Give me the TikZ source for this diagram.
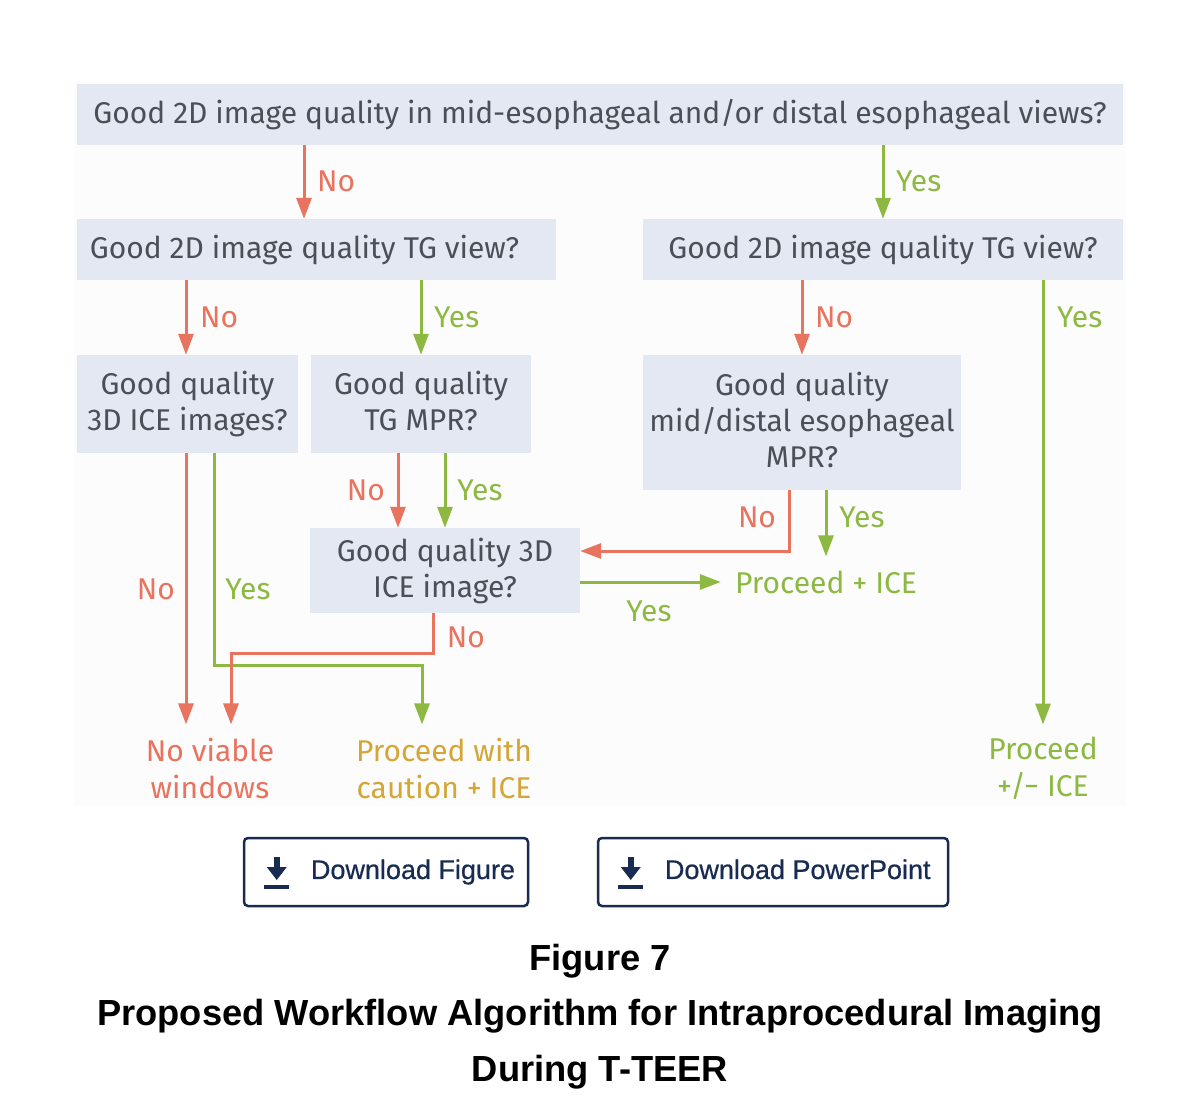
\documentclass[tikz,border=0pt]{standalone}
\usepackage{fontspec}
\setmainfont{Fira Sans}
\newfontfamily\webfont{Liberation Sans}
\newfontfamily\btnfont{Liberation Sans}[FakeBold=0.6]
\usetikzlibrary{arrows.meta,positioning}

\definecolor{boxfill}{HTML}{E3E8F2}
\definecolor{boxtext}{HTML}{4B5058}
\definecolor{nored}{HTML}{E8735E}
\definecolor{yesgreen}{HTML}{8DB943}
\definecolor{cautiongold}{HTML}{D3A635}
\definecolor{navy}{HTML}{182B52}
\definecolor{panel}{HTML}{FCFCFC}

\tikzset{
	question/.style={fill=boxfill, text=boxtext, align=center, inner sep=0pt,
		font=\fontsize{30}{36}\selectfont},
	outcome/.style={align=center, inner sep=0pt, font=\fontsize{30}{37}\selectfont},
	lbl/.style={inner sep=0pt, font=\fontsize{30}{36}\selectfont},
	noarr/.style={draw=nored, line width=3pt, -{Triangle[length=21pt,width=15pt]}},
	yesarr/.style={draw=yesgreen, line width=3pt, -{Triangle[length=21pt,width=15pt]}},
	button/.style={draw=navy, line width=2.5pt, rounded corners=4pt, fill=white},
	btntext/.style={text=navy, anchor=west, inner sep=0pt, font=\btnfont\fontsize{27}{32}\selectfont},
	captxt/.style={text=black, font=\webfont\bfseries\fontsize{36.3}{40}\selectfont},
	dlicon/.pic={
		\fill[navy] (-3,-15) rectangle (3,-4);
		\fill[navy] (-10,-5) -- (10,-5) -- (0,8) -- cycle;
		\fill[navy] (-12.5,13) rectangle (12.5,17);
	}
}

\begin{document}
\begin{tikzpicture}[x=1pt,y=-1pt]

	% ---- page

	\useasboundingbox (0,0) rectangle (1200,1104);
	\fill[white] (0,0) rectangle (1200,1104);
	\fill[panel] (74,82) rectangle (1126,806);

	% ---- question boxes

	\node[question, minimum width=1046pt, minimum height=61pt] (top) at (600,114.5)
		{Good 2D image quality in mid-esophageal and/or distal esophageal views?};
	\node[question, minimum width=479pt, minimum height=61pt] (tgL) at (316.5,249.5)
		{Good 2D image quality TG view?\hspace*{24pt}};
	\node[question, minimum width=480pt, minimum height=61pt] (tgR) at (883,249.5)
		{Good 2D image quality TG view?};
	\node[question, minimum width=221pt, minimum height=98pt] (iceImgs) at (187.5,404)
		{Good quality\\3D ICE images?};
	\node[question, minimum width=220pt, minimum height=98pt] (tgMpr) at (421,404)
		{Good quality\\TG MPR?\vphantom{g}};
	\node[question, minimum width=318pt, minimum height=135pt] (meMpr) at (802,422.5)
		{Good quality\\mid/distal esophageal\\MPR?\vphantom{g}};
	\node[question, minimum width=270pt, minimum height=85pt] (iceImg) at (445,570.5)
		{Good quality 3D\\ICE image?};

	% ---- outcomes

	\node[outcome, text=nored] (noWin) at (210,768) {No viable\\windows};
	\node[outcome, text=cautiongold] (caution) at (444,768) {Proceed with\\caution + ICE};
	\node[outcome, text=yesgreen] (procIce) at (826,582) {Proceed + ICE};
	\node[outcome, text=yesgreen] (procPm) at (1043,768) {Proceed\\+/− ICE};

	% ---- bends

	\coordinate (yesBend) at (214,665);
	\coordinate (noBend) at (433,653);
	\coordinate (mprBend) at (789,551);
	\coordinate (iceOut) at ([yshift=-11.5pt]iceImg.east);

	% ---- connectors

	\draw[noarr] ([xshift=-12.5pt]tgL.north |- top.south) -- ([xshift=-12.5pt]tgL.north);
	\draw[yesarr] (tgR.north |- top.south) -- (tgR.north);

	\draw[noarr] ([xshift=-1.5pt]iceImgs.north |- tgL.south) -- ([xshift=-1.5pt]iceImgs.north);
	\draw[yesarr] (tgMpr.north |- tgL.south) -- (tgMpr.north);
	\draw[noarr] (meMpr.north |- tgR.south) -- (meMpr.north);
	\draw[yesarr, shorten >=12pt] ([xshift=160pt]tgR.south) -- (procPm.north);

	\draw[noarr, shorten >=13pt] ([xshift=-1.5pt]iceImgs.south) -- ([xshift=-24pt]noWin.north);
	\draw[yesarr, shorten >=13pt] (iceImgs.south -| yesBend) -- (yesBend) -| ([xshift=-22pt]caution.north);

	\draw[noarr] ([xshift=-23pt]tgMpr.south) -- ([xshift=-47pt]iceImg.north);
	\draw[yesarr] ([xshift=24pt]tgMpr.south) -- (iceImg.north);

	\draw[noarr] (meMpr.south -| mprBend) -- (mprBend) -- (mprBend -| iceImg.east);
	\draw[yesarr, shorten >=14pt] ([xshift=24pt]meMpr.south) -- (procIce.north);

	\draw[yesarr, shorten >=14pt] (iceOut) -- (procIce.west |- iceOut);
	\draw[noarr, shorten >=13pt] (iceImg.south -| noBend) -- (noBend) -| ([xshift=21pt]noWin.north);

	% ---- branch labels

	\node[lbl, text=nored, anchor=west] (l1) at (317,181) {No};
	\node[lbl, text=yesgreen, anchor=west] (l2) at (896,181) {Yes};
	\node[lbl, text=nored, anchor=west] (l3) at (200,317) {No};
	\node[lbl, text=yesgreen, anchor=west] (l4) at (434,317) {Yes};
	\node[lbl, text=nored, anchor=west] (l5) at (815,317) {No};
	\node[lbl, text=yesgreen, anchor=west] (l6) at (1057,317) {Yes};
	\node[lbl, text=nored] (l7) at (156,589) {No};
	\node[lbl, text=yesgreen] (l8) at (248,589) {Yes};
	\node[lbl, text=nored] (l9) at (366,490) {No};
	\node[lbl, text=yesgreen] (l10) at (480,490) {Yes};
	\node[lbl, text=nored] (l11) at (757,517) {No};
	\node[lbl, text=yesgreen] (l12) at (862,517) {Yes};
	\node[lbl, text=yesgreen] (l13) at (649,611) {Yes};
	\node[lbl, text=nored] (l14) at (466,637) {No};

	% ---- buttons

	\node[button, minimum width=284pt, minimum height=68pt] (btnFig) at (386,872) {};
	\node[button, minimum width=350pt, minimum height=68pt] (btnPpt) at (773,872) {};

	\pic at ([xshift=34pt]btnFig.west) {dlicon};
	\pic at ([xshift=34pt]btnPpt.west) {dlicon};

	\node[btntext] (btnFigText) at ([xshift=68pt]btnFig.west) {Download Figure\vphantom{g}};
	\node[btntext] (btnPptText) at ([xshift=68pt]btnPpt.west) {Download PowerPoint\vphantom{g}};

	% ---- caption

	\node[captxt] (figNo) at (600,961) {Figure 7};
	\node[captxt] (capA) at (600,1016) {Proposed Workflow Algorithm for Intraprocedural Imaging};
	\node[captxt] (capB) at (600,1072) {During T-TEER};

\end{tikzpicture}
\end{document}
